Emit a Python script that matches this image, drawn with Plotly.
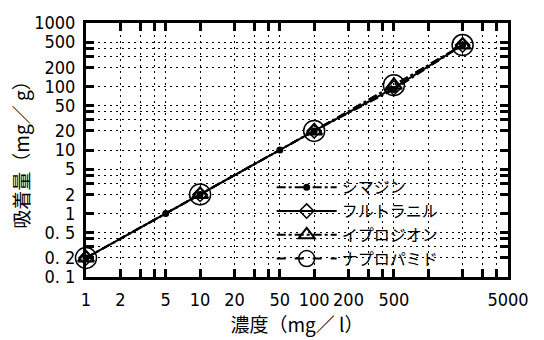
import numpy as np
import plotly.graph_objects as go

# ---- data ----
series_names = ["シマジン", "フルトラニル", "イプロジオン", "ナプロパミド"]
x_simazine = [1, 5, 10, 50, 100, 500, 2000]
y_simazine = [0.2, 1.0, 2.0, 10, 20, 90, 450]
x_flutolanil = [1, 10, 100, 500, 2000]
y_flutolanil = [0.2, 2.0, 20, 95, 450]
x_iprodione = [1, 10, 100, 500, 2000]
y_iprodione = [0.2, 2.0, 20, 105, 450]
x_napropamide = [1, 10, 100, 500, 2000]
y_napropamide = [0.2, 2.0, 20, 105, 450]

x_labels = {1: "1", 2: "2", 5: "5", 10: "10", 20: "20", 50: "50", 100: "100",
            200: "200", 500: "500", 5000: "5000"}
y_labels = {0.1: "0. 1", 0.2: "0. 2", 0.5: "0. 5", 1: "1", 2: "2", 5: "5", 10: "10",
            20: "20", 50: "50", 100: "100", 200: "200", 500: "500", 1000: "1000"}

x_title = "濃度（mg／ l）"
y_title = "吸着量（mg／ g）"

# tick positions (1..5 multiples per decade)
def decade_ticks(lo_exp, hi_exp, extra=()):
    v = []
    for e in range(lo_exp, hi_exp + 1):
        for m in (1, 2, 3, 4, 5):
            v.append(round(m * 10 ** e, 6))
    v += list(extra)
    return sorted(set(v))

x_tickvals = [t for t in decade_ticks(0, 3, (5000,)) if t <= 5000]
y_tickvals = [t for t in decade_ticks(-1, 2, (1000,)) if t <= 1000]

def tick_text(vals, labels):
    out = []
    for t in vals:
        key = None
        for k in labels:
            if abs(k - t) < 1e-9:
                key = k
        out.append(labels[key] if key is not None else "")
    return out

fig = go.Figure()
fig.add_trace(go.Scatter(x=x_simazine, y=y_simazine, name=series_names[0], mode="lines+markers",
                         line=dict(color="black", width=2, dash="dashdot"), cliponaxis=False,
                         marker=dict(symbol="circle", size=7, color="black")))
fig.add_trace(go.Scatter(x=x_flutolanil, y=y_flutolanil, name=series_names[1], mode="lines+markers",
                         line=dict(color="black", width=2, dash="solid"), cliponaxis=False,
                         marker=dict(symbol="diamond-open", size=11, color="black", line=dict(width=1.5))))
fig.add_trace(go.Scatter(x=x_iprodione, y=y_iprodione, name=series_names[2], mode="lines+markers",
                         line=dict(color="black", width=2, dash="dashdot"), cliponaxis=False,
                         marker=dict(symbol="triangle-up-open", size=14, color="black", line=dict(width=2))))
fig.add_trace(go.Scatter(x=x_napropamide, y=y_napropamide, name=series_names[3], mode="lines+markers",
                         line=dict(color="black", width=2, dash="dash"), cliponaxis=False,
                         marker=dict(symbol="circle-open", size=21, color="black", line=dict(width=1.5))))

tick_font = dict(family="Liberation Sans Narrow, DejaVu Sans Condensed, Liberation Sans", size=18, color="black")
title_font = dict(family="Noto Sans CJK JP", size=19, color="black")

fig.update_xaxes(type="log", range=[0, np.log10(5000)], tickmode="array",
                 tickvals=x_tickvals, ticktext=tick_text(x_tickvals, x_labels),
                 ticks="inside", ticklen=8, tickwidth=2.5, tickcolor="black",
                 showline=True, linewidth=3, linecolor="black", mirror="allticks",
                 showgrid=True, gridcolor="black", gridwidth=1, griddash="2px,4px",
                 zeroline=False, tickfont=tick_font, ticklabelstandoff=4,
                 title=dict(text=x_title, font=title_font, standoff=5))
fig.update_yaxes(type="log", range=[-1, 3], tickmode="array",
                 tickvals=y_tickvals, ticktext=tick_text(y_tickvals, y_labels),
                 ticks="inside", ticklen=8, tickwidth=2.5, tickcolor="black",
                 showline=True, linewidth=3, linecolor="black", mirror="allticks",
                 showgrid=True, gridcolor="black", gridwidth=1, griddash="2px,4px",
                 zeroline=False, tickfont=tick_font, ticklabelstandoff=4,
                 title=dict(text=y_title, font=title_font, standoff=0))

fig.update_layout(
    width=544, height=340,
    margin=dict(l=86, r=36, t=12, b=53),
    paper_bgcolor="white", plot_bgcolor="white",
    showlegend=True,
    legend=dict(x=0.44, y=0.42, xanchor="left", yanchor="top", bgcolor="rgba(0,0,0,0)",
                font=dict(family="Noto Sans CJK JP", size=16, color="black"),
                itemwidth=60, tracegroupgap=0),
)

fig.write_html("out.html")
